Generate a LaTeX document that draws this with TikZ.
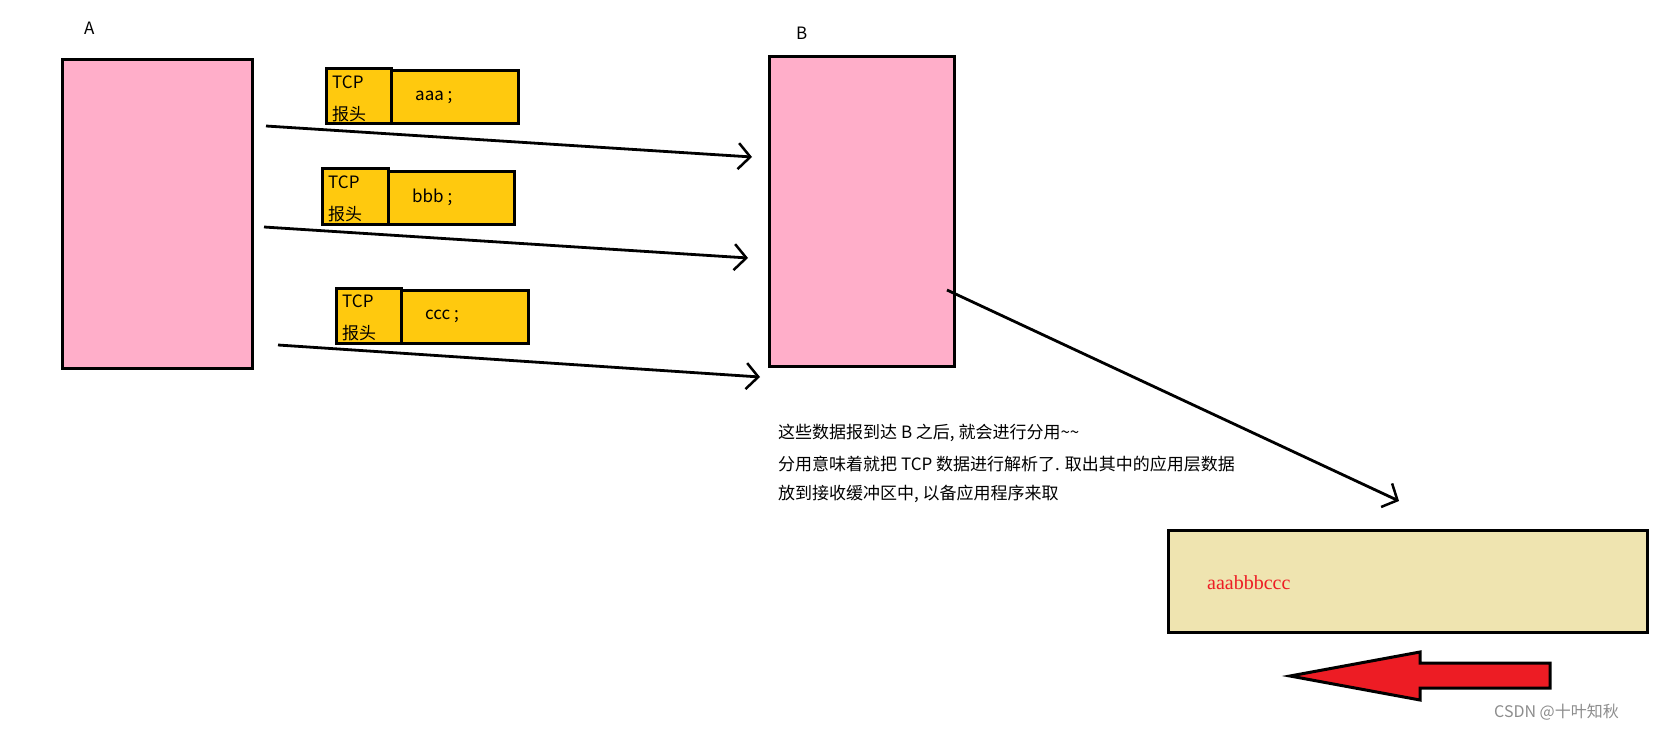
\documentclass[tikz,border=0pt]{standalone}
\usepackage{fontspec}
\setmainfont{Noto Sans CJK SC}
\newfontfamily\redserif{Liberation Serif}
\usetikzlibrary{arrows.meta}
\definecolor{pinkbox}{HTML}{FFAEC9}
\definecolor{yel}{HTML}{FFC90E}
\definecolor{tan}{HTML}{EFE4B0}
\definecolor{pred}{HTML}{ED1C24}
\tikzset{
  host/.style={draw=black,line width=3pt,fill=pinkbox},
  pkt/.style={draw=black,line width=3pt,fill=yel},
  msg/.style={line width=2.8pt,-{Straight Barb[length=12pt,width=26pt,line width=2.5pt]}},
  lbl/.style={font=\fontsize{17}{20}\selectfont,inner sep=0pt,anchor=west},
}
\begin{document}
\begin{tikzpicture}[x=1pt,y=-1pt]
\useasboundingbox (0,0) rectangle (1656,730);
% hosts
\node[lbl] (la) at (84,28) {A};
\draw[host] (62,60) rectangle (252,368);
\coordinate (A) at (252,60);
\node[lbl] (lb) at (796,33) {B};
\draw[host] (769,57) rectangle (954,366);
% packets
\foreach \hx/\hy/\hxx/\dy/\dx/\txt/\n in {
  326/69/391/71/518/aaa/1, 322/169/388/172/514/bbb/2, 336/288/401/290/528/ccc/3}{
  \draw[pkt] (\hxx,\dy) rectangle (\dx,\hy+55);
  \begin{scope}
  \clip (\hx,\hy) rectangle (\hxx,\hy+55);
  \draw[pkt] (\hx,\hy) rectangle (\hxx,\hy+55);
  \node[lbl] (t\n) at (\hx+6,\hy+13) {TCP};
  \node[lbl] (h\n) at (\hx+6,\hy+45) {报头};
  \end{scope}
  \draw[line width=3pt] (\hx,\hy) rectangle (\hxx,\hy+55);
  \node[lbl] (d\n) at (\hxx+24,\hy+28) {\txt\ ;};
}
% connectors
\coordinate (s1) at (266,126); \coordinate (e1) at (752,157);
\coordinate (s2) at (264,227); \coordinate (e2) at (748,258);
\coordinate (s3) at (278,345); \coordinate (e3) at (760,377);
\draw[msg] (s1) -- (e1);
\draw[msg] (s2) -- (e2);
\draw[msg] (s3) -- (e3);
\coordinate (s4) at (947,290); \coordinate (e4) at (1399,501);
\draw[msg] (s4) -- (e4);
% explanation
\node[lbl] (x1) at (778,433) {这些数据报到达 B 之后, 就会进行分用\textasciitilde\textasciitilde};
\node[lbl] (x2) at (778,464) {分用意味着就把 TCP 数据进行解析了. 取出其中的应用层数据};
\node[lbl] (x3) at (778,494) {放到接收缓冲区中, 以备应用程序来取};
% buffer
\draw[draw=black,line width=3pt,fill=tan] (1168,530) rectangle (1647,632);
\node[lbl,text=pred,font=\redserif\fontsize{20}{24}\selectfont] (buf) at (1207,583) {aaabbbccc};
% big red arrow
\draw[fill=pred,draw=black,line width=3pt,line join=miter]
  (1290,676) -- (1420,652) -- (1420,663) -- (1550,663) -- (1550,688) -- (1420,688) -- (1420,700) -- cycle;
% watermark
\node[lbl,text=black!45,font=\fontsize{16}{18}\selectfont] (wm) at (1494,712) {CSDN @十叶知秋};
\end{tikzpicture}
\end{document}
